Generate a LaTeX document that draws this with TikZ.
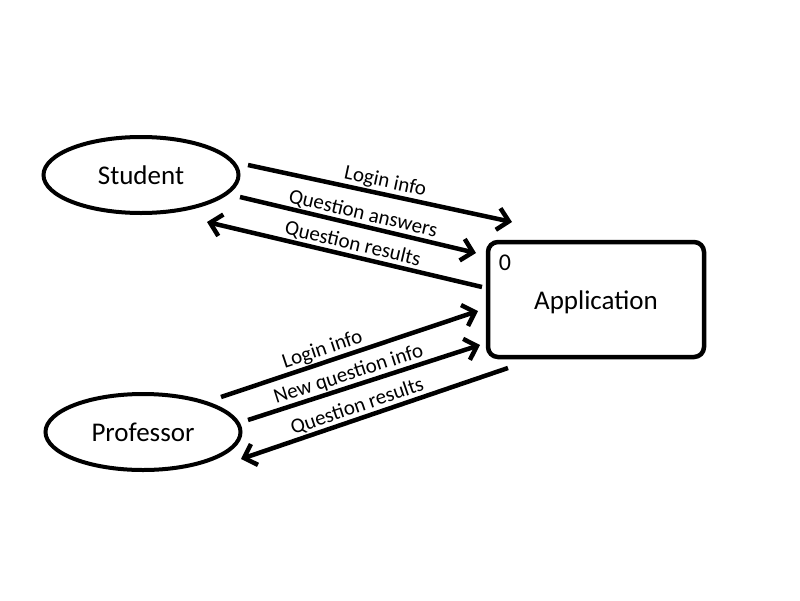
\documentclass[tikz,border=0pt]{standalone}
\usepackage{fontspec}
\setmainfont{Carlito}
\usetikzlibrary{arrows.meta,shapes.geometric}
\begin{document}
\begin{tikzpicture}[x=1pt,y=-1pt,
  entity/.style={draw,ellipse,line width=4pt,minimum width=195pt,minimum height=76pt,font=\fontsize{27}{32}\selectfont},
  proc/.style={draw,rectangle,rounded corners=10pt,line width=4.5pt,minimum width=216pt,minimum height=115pt},
  flow/.style={line width=4.5pt,-{Straight Barb[length=11pt,width=22pt]}},
  rflow/.style={line width=4.5pt,{Straight Barb[length=11pt,width=22pt]}-},
  lbl/.style={sloped,above,inner sep=1pt,font=\fontsize{21}{24}\selectfont}]
\useasboundingbox (0,0) rectangle (800,600);
\node[entity] (student) at (141,175) {Student};
\node[entity] (prof) at (143,432) {Professor};
\node[proc] (app) at (596,299.5) {};
\node[font=\fontsize{27}{32}\selectfont] (apptxt) at (596,302) {Application};
\node[font=\fontsize{24}{28}\selectfont] (num) at (505,263) {0};
% student flows
\coordinate (s1a) at (248,165); \coordinate (s1b) at (512,222);
\coordinate (s2a) at (240,197); \coordinate (s2b) at (476,253);
\coordinate (s3a) at (207,222); \coordinate (s3b) at (482,287);
\draw[flow] (s1a) -- node[lbl,pos=0.51] {Login info} (s1b);
\draw[flow] (s2a) -- node[lbl,pos=0.51] {Question answers} (s2b);
\draw[rflow] (s3a) -- node[lbl,pos=0.52] {Question results} (s3b);
% professor flows
\coordinate (p1a) at (221,397); \coordinate (p1b) at (478,311);
\coordinate (p2a) at (248,420); \coordinate (p2b) at (480,345);
\coordinate (p3a) at (241,459); \coordinate (p3b) at (508,368);
\draw[flow] (p1a) -- node[lbl,pos=0.41] {Login info} (p1b);
\draw[flow] (p2a) -- node[lbl,pos=0.45] {New question info} (p2b);
\draw[rflow] (p3a) -- node[lbl,pos=0.45] {Question results} (p3b);
\end{tikzpicture}
\end{document}
